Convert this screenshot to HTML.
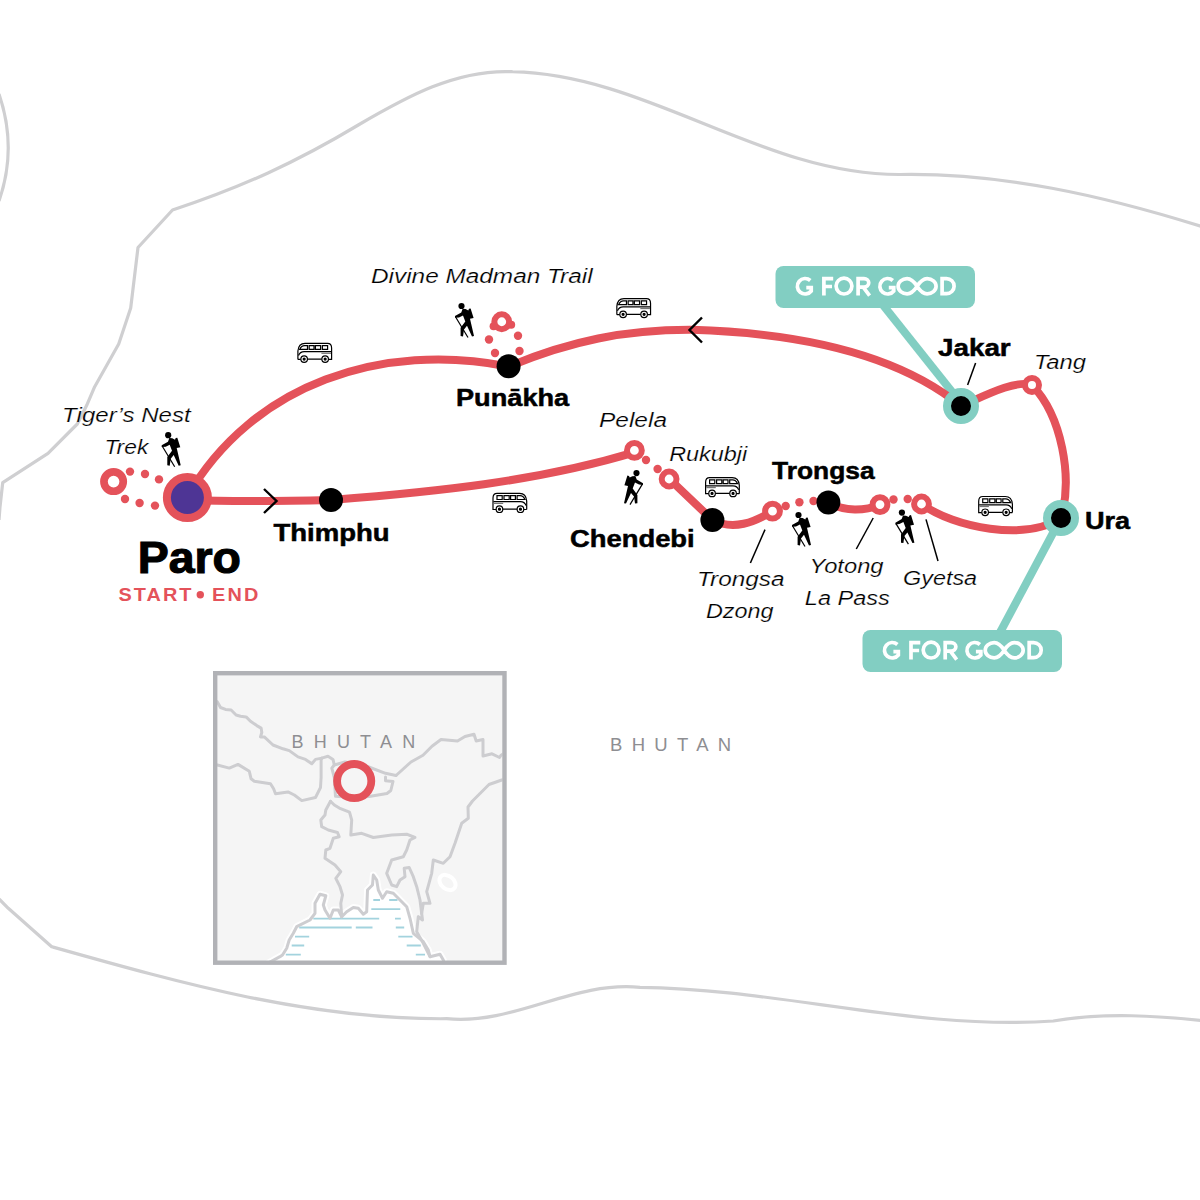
<!DOCTYPE html>
<html><head><meta charset="utf-8">
<style>
html,body{margin:0;padding:0;background:#fff;width:1200px;height:1200px;overflow:hidden}
svg{display:block}
text{font-family:"Liberation Sans",sans-serif}
.b{font-weight:bold;font-size:24px;fill:#000;stroke:#000;stroke-width:0.5px}
.i{font-style:italic;font-size:20px;fill:#000;stroke:#fff;stroke-width:0.2px}
</style></head><body>
<svg width="1200" height="1200" viewBox="0 0 1200 1200">
<defs>
<g id="hiker">
<circle cx="13.2" cy="7.2" r="3.1"/>
<path d="M14.3 10 L17.3 10.3 L20 11.7 L20.7 10 L22.3 9.7 L25.3 19.3 L21.7 20 L25.7 37.3 L23.7 37.7 L18.7 27 L15.7 30.7 L14.7 37.7 L12.3 37.3 L12.3 29 L17 22.7 L14.7 16.7 L10.7 18.7 L6.7 19 L6.7 17.3 L13 13.7 Z"/>
<path d="M7.3 18.2 L19.7 38.7" stroke="#000" stroke-width="1.2" fill="none"/>
</g>
<g id="bus" fill="none" stroke="#000" stroke-width="1.2">
<path d="M3.9 19.4 V11 Q4.5 3.3 11 3.3 H33.5 Q37.6 3.3 37.6 8 V19.4 H34.6 M27.7 19.1 H13.6 M6.7 19.4 H3.9"/>
<path d="M5.6 9.4 Q7.5 5.6 10.5 5.6 H13.5 V9.4 Z M15.2 5.6 H20 V9.4 H15.2 Z M21.4 5.6 H26.6 V9.4 H21.4 Z M28.4 5.6 H33.6 V9.4 H28.4 Z"/>
<path d="M4.5 15.5 Q6 11.6 10.2 11.6 H37.2"/>
<path d="M27.4 13.3 H37" stroke="#777"/>
<circle cx="10.15" cy="19.1" r="3.3"/>
<circle cx="31.15" cy="19.1" r="3.3"/>
<circle cx="10.15" cy="19.1" r="1" fill="#000"/>
<circle cx="31.15" cy="19.1" r="1" fill="#000"/>
</g>
</defs>

<!-- country border -->
<g fill="none" stroke="#cfcfd1" stroke-width="3.2" stroke-linejoin="round">
<path d="M-1 94 Q17.5 148 -1 201"/>
<path d="M1210 229 L1200 226 C1103.2 195.8 1002.1 172.7 900 174.5 C761.9 175 649.4 74.9 512.5 71.7 C456 69 405.2 97.6 358.3 125 C296.8 161.9 241 187.6 172.5 210 L138 247.5 L130.7 308 L118.7 344 L94.7 386.7 L86.7 405.3 Q82 415 77.3 424 L48 453.3 L2.7 482.7 L0 507 L-1 520"/>
<path d="M-5 895 L0 900 L8.3 908.3 L51.7 946.7 C181 983.1 311.2 1019.9 446.7 1018.7 C514.5 1025.4 572.3 980.6 640 987.3 C778.6 988.6 914.5 1030.7 1053.3 1021 C1105.2 1012.1 1157.9 1015.7 1210 1021.5"/>
</g>

<!-- inset map -->
<defs><clipPath id="ic"><rect x="217" y="675" width="285.5" height="286"/></clipPath></defs>
<rect x="215.2" y="673.2" width="289.3" height="289.5" fill="#f5f5f5"/>
<g clip-path="url(#ic)">
<path d="M262.0 968.0 L270.0 962.0 L280.0 956.7 L282.5 955.0 L286.7 948.3 L289.2 940.0 L293.3 933.3 L296.7 926.7 L310.0 920.0 L315.0 913.3 L315.0 903.3 L320.0 894.2 L325.8 895.8 L323.3 905.0 L325.0 910.0 L330.0 918.3 L333.3 910.0 L338.3 910.0 L341.7 916.7 L346.7 911.7 L353.3 907.5 L358.3 908.3 L363.3 914.2 L366.7 911.7 L367.5 890.0 L372.5 885.0 L373.3 875.0 L376.7 880.0 L378.3 890.0 L382.5 898.3 L386.7 891.7 L393.3 893.3 L406.7 906.7 L410.0 918.3 L413.3 933.3 L423.3 941.7 L428.3 950.0 L430.0 956.7 L440.0 954.2 L443.3 960.0 L446.0 968.0 Z" fill="#fff" stroke="#fff" stroke-width="7" stroke-linejoin="round" opacity="0.9"/>
<path d="M262.0 968.0 L270.0 962.0 L280.0 956.7 L282.5 955.0 L286.7 948.3 L289.2 940.0 L293.3 933.3 L296.7 926.7 L310.0 920.0 L315.0 913.3 L315.0 903.3 L320.0 894.2 L325.8 895.8 L323.3 905.0 L325.0 910.0 L330.0 918.3 L333.3 910.0 L338.3 910.0 L341.7 916.7 L346.7 911.7 L353.3 907.5 L358.3 908.3 L363.3 914.2 L366.7 911.7 L367.5 890.0 L372.5 885.0 L373.3 875.0 L376.7 880.0 L378.3 890.0 L382.5 898.3 L386.7 891.7 L393.3 893.3 L406.7 906.7 L410.0 918.3 L413.3 933.3 L423.3 941.7 L428.3 950.0 L430.0 956.7 L440.0 954.2 L443.3 960.0 L446.0 968.0 Z" fill="#fff"/>
<path d="M373.3 900.0 H380.0 M389.2 900.0 H397.5 M371.3 909.2 H400.3 M313.3 918.7 H379.2 M395.0 918.7 H400.8 M299.2 927.5 H351.7 M355.8 927.5 H372.5 M395.8 927.5 H404.2 M295.0 936.7 H309.2 M398.3 936.7 H412.5 M291.7 945.5 H304.2 M406.7 945.5 H420.8 M285.8 954.7 H300.8 M415.8 954.7 H425.0" stroke="#a3d3de" stroke-width="1.8" fill="none"/>
<ellipse cx="447.5" cy="882.5" rx="9" ry="6.5" transform="rotate(40 447.5 882.5)" fill="none" stroke="#fff" stroke-width="4"/>
<g fill="none" stroke="#cdcdd0" stroke-width="3" stroke-linejoin="round" stroke-linecap="round">
<path d="M213.0 700.0 L217.4 701.9 L220.5 707.5 L225.5 709.4 L231.1 710.0 L236.1 715.0 L240.5 716.3 L246.1 716.9 L250.5 721.3 L256.8 725.6 L261.1 728.1 L261.8 732.5 L260.5 736.9 L264.3 736.9 L273.0 745.0 L283.0 748.8 L289.3 750.6 L298.0 756.9 L305.5 759.4 L311.8 763.8 L315.5 759.4 L321.8 758.1 L328.0 756.3 L333.0 759.4 L334.3 765.0 L331.8 768.1 L334.3 777.5 L335.5 796.3 L353.0 797.5 L369.0 796.5 L387.0 793.5 L390.8 790.5 L393.0 781.5 L385.5 780.8 L385.5 777.0"/><path d="M334.3 765.0 L345.0 762.0 L367.5 766.5 L385.5 773.3 L396.0 775.5"/><path d="M396.0 775.5 L411.0 762.0 L423.0 755.2 L432.0 746.2 L441.0 739.5 L457.5 741.0 L465.0 736.5 L474.0 734.2 L476.2 741.0 L483.0 739.5 L483.0 756.0 L492.0 753.8 L499.5 757.5 L501.0 755.2 L508.0 751.0"/><path d="M213.0 764.5 L217.4 765.0 L229.3 768.1 L238.0 764.4 L249.3 771.3 L251.1 778.8 L254.3 781.3 L270.5 783.8 L273.6 788.8 L275.5 793.8 L288.0 791.9 L294.3 795.0 L301.8 800.6 L315.5 797.5 L320.5 787.5 L321.1 777.5 L321.1 760.0 L321.8 758.1"/><path d="M508.0 777.0 L501.8 780.0 L489.0 784.5 L480.0 793.5 L472.5 801.0 L468.0 807.0 L468.3 818.3 L461.7 823.3 L455.0 843.3 L450.0 856.7 L443.3 863.3 L433.3 860.0 L431.7 873.3 L426.7 891.7 L430.0 903.3 L423.3 903.3 L421.7 913.3"/><path d="M330.5 801.3 L325.8 810.0 L325.0 815.0 L320.8 820.0 L321.7 826.7 L328.3 830.0 L337.5 832.5 L339.2 836.7 L333.3 838.3 L330.0 848.3 L325.8 850.0 L325.0 858.3 L335.0 865.0 L340.8 871.7 L335.8 878.3 L340.0 886.7 L342.5 895.0 L340.8 903.3 L341.7 916.7"/><path d="M330.5 801.3 L334.3 805.0 L339.3 808.1 L349.5 812.2 L351.7 820.0 L350.8 835.0 L361.7 833.3 L373.3 837.5 L391.7 835.0 L406.7 834.2 L415.0 837.5 L410.0 840.0 L406.7 850.0 L403.3 856.7 L391.7 860.0 L386.7 873.3 L391.7 885.0 L396.7 886.7 L400.0 880.0 L405.0 876.7 L404.2 868.3 L409.2 867.5 L413.3 876.7 L416.7 886.7 L420.0 900.0 L422.5 920.0 L418.3 916.7 L416.7 931.7 L423.3 943.3 L428.3 953.3 L430.0 956.7"/><path d="M341.7 916.7 L338.3 910.0 L333.3 910.0 L330.0 918.3 L325.0 910.0 L323.3 905.0 L325.8 895.8 L320.0 894.2 L315.0 903.3 L315.0 913.3 L310.0 920.0 L296.7 926.7 L293.3 933.3 L289.2 940.0 L286.7 948.3 L282.5 955.0 L280.0 956.7 L270.0 962.0 L262.0 968.0"/><path d="M341.7 916.7 L346.7 911.7 L353.3 907.5 L358.3 908.3 L363.3 914.2 L366.7 911.7 L367.5 890.0 L372.5 885.0 L373.3 875.0 L376.7 880.0 L378.3 890.0 L382.5 898.3 L386.7 891.7 L393.3 893.3 L406.7 906.7 L410.0 918.3 L413.3 933.3 L423.3 941.7 L428.3 950.0 L430.0 956.7 L440.0 954.2 L443.3 960.0 L446.0 968.0"/>
</g>
</g>
<rect x="215.2" y="673.2" width="289.3" height="289.5" fill="none" stroke="#b1b2b6" stroke-width="4.4"/>
<circle cx="354.2" cy="781.1" r="17.1" fill="none" stroke="#e4525a" stroke-width="7.8"/>

<!-- teal leaders -->
<g stroke="#82cec2" stroke-width="8" fill="none">
<path d="M879 300 L962.5 405"/>
<path d="M996 640 L1061 518"/>
</g>
<rect x="775.5" y="266" width="199.5" height="42" rx="8" fill="#82cec2"/>
<rect x="862.5" y="630" width="199.5" height="42" rx="8" fill="#82cec2"/>

<!-- route -->
<g fill="none" stroke="#e4525a" stroke-width="8" stroke-linecap="round">
<path d="M187 497 C253 382.9 383.2 341.5 508.5 366.5 C570.3 341 624.8 329.5 692 329.8 C780.6 332.5 890.1 348.3 961 406 C977.5 399.4 1014.7 378.9 1032 385 C1062.1 416.4 1072.7 477.4 1061 518 C1025.4 541.4 954 527.8 921.5 504"/>
<path d="M187 500 C240 502 290 501 331 500 C433.1 491.8 535.8 482 634.4 452.4"/>
<path d="M669 478.6 L712.4 520 C733.7 531 754.3 522 772.5 511.2"/>
<path d="M828.4 502.6 C845 512 865 511 880 504.6"/>
</g>
<!-- dots -->
<g fill="#e4525a">
<circle cx="130" cy="471.6" r="4.2"/><circle cx="145" cy="474" r="4.2"/><circle cx="159" cy="479.4" r="4.2"/>
<circle cx="125" cy="499" r="4.2"/><circle cx="139.6" cy="503" r="4.2"/><circle cx="155" cy="505.6" r="4.2"/>
<circle cx="493.6" cy="326.3" r="4"/><circle cx="511.2" cy="324.8" r="4"/><circle cx="489" cy="339.5" r="4.2"/><circle cx="518" cy="335.75" r="4.2"/><circle cx="495" cy="353" r="4.2"/><circle cx="519.5" cy="351" r="4.2"/>
<circle cx="646" cy="460" r="4.2"/><circle cx="657.6" cy="469" r="4.2"/>
<circle cx="785.7" cy="506" r="4.2"/><circle cx="799.4" cy="502.3" r="4.2"/><circle cx="813.5" cy="501" r="4.2"/>
<circle cx="893.5" cy="499.5" r="4.2"/><circle cx="907.7" cy="499" r="4.2"/>
</g>
<!-- rings -->
<g fill="#fff" stroke="#e4525a" stroke-width="6">
<circle cx="113.6" cy="481.6" r="9.65" stroke-width="7.7"/>
<circle cx="501.75" cy="321.75" r="7.4"/>
<circle cx="634.4" cy="450.4" r="7.4"/>
<circle cx="669.1" cy="479" r="7.4"/>
<circle cx="772.5" cy="511.2" r="7.4"/>
<circle cx="880" cy="504.6" r="7.4"/>
<circle cx="921.5" cy="504" r="7.4"/>
<circle cx="1032" cy="385" r="7"/>
</g>
<!-- paro -->
<circle cx="187.4" cy="497.6" r="20.5" fill="#4e3595" stroke="#e4525a" stroke-width="8"/>
<!-- black stops -->
<g fill="#000">
<circle cx="331" cy="500" r="12"/>
<circle cx="508.6" cy="366.3" r="12"/>
<circle cx="712.4" cy="520" r="12"/>
<circle cx="828.4" cy="502.6" r="12"/>
</g>
<circle cx="961" cy="406" r="14" fill="#000" stroke="#82cec2" stroke-width="8"/>
<circle cx="1061" cy="518" r="14" fill="#000" stroke="#82cec2" stroke-width="8"/>

<!-- arrows -->
<g fill="none" stroke="#000" stroke-width="2.4">
<path d="M264 489 L276.5 501 L264 513"/>
<path d="M702 317.5 L689.5 330 L702 342.5"/>
</g>
<!-- leaders -->
<g stroke="#000" stroke-width="1.5">
<path d="M975.6 363 L967.6 385"/>
<path d="M765 529.6 L750.4 563"/>
<path d="M873.2 518 L856.3 549"/>
<path d="M926 519.4 L938 561"/>
</g>

<!-- icons -->
<use href="#hiker" x="155" y="428"/>
<use href="#hiker" x="448.3" y="298.8"/>
<use href="#hiker" transform="translate(649.7 465.9) scale(-1 1)"/>
<use href="#hiker" x="785.3" y="507.8"/>
<use href="#hiker" x="888.7" y="505.4"/>
<use href="#bus" x="294" y="340"/>
<use href="#bus" transform="translate(530.6 490.1) scale(-1 1)"/>
<use href="#bus" x="612.95" y="295.25"/>
<use href="#bus" transform="translate(743.2 474.3) scale(-1 1)"/>
<use href="#bus" transform="translate(1016.3 493.2) scale(-1 1)"/>

<!-- labels -->
<text class="b" x="137.7" y="573" style="font-size:44px;stroke-width:1.1px" textLength="103.3" lengthAdjust="spacingAndGlyphs">Paro</text>
<text transform="translate(118.5 600.8) scale(1.07 1)" style="font-size:18.6px;font-weight:bold;fill:#e4525a;letter-spacing:1.9px">START</text>
<circle cx="200.3" cy="594.8" r="3.7" fill="#e4525a"/>
<text transform="translate(212 600.8) scale(1.07 1)" style="font-size:18.6px;font-weight:bold;fill:#e4525a;letter-spacing:2.1px">END</text>
<text class="b" x="273.4" y="541" textLength="116.3" lengthAdjust="spacingAndGlyphs">Thimphu</text>
<text class="b" x="456" y="406" textLength="113.2" lengthAdjust="spacingAndGlyphs">Punākha</text>
<text class="b" x="938" y="356" textLength="72.7" lengthAdjust="spacingAndGlyphs">Jakar</text>
<text class="b" x="772" y="479" textLength="102.6" lengthAdjust="spacingAndGlyphs">Trongsa</text>
<text class="b" x="570" y="547" textLength="124.7" lengthAdjust="spacingAndGlyphs">Chendebi</text>
<text class="b" x="1085" y="529" textLength="45.2" lengthAdjust="spacingAndGlyphs">Ura</text>

<text class="i" x="62.1" y="422" textLength="128.5" lengthAdjust="spacingAndGlyphs">Tiger’s Nest</text>
<text class="i" x="104.4" y="453.5" textLength="43.9" lengthAdjust="spacingAndGlyphs">Trek</text>
<text class="i" x="371" y="283" textLength="221.6" lengthAdjust="spacingAndGlyphs">Divine Madman Trail</text>
<text class="i" x="599" y="427" textLength="68" lengthAdjust="spacingAndGlyphs">Pelela</text>
<text class="i" x="669.2" y="461" textLength="78" lengthAdjust="spacingAndGlyphs">Rukubji</text>
<text class="i" x="1034" y="369" textLength="52.1" lengthAdjust="spacingAndGlyphs">Tang</text>
<text class="i" x="697" y="586" textLength="87.5" lengthAdjust="spacingAndGlyphs">Trongsa</text>
<text class="i" x="706" y="618" textLength="67.5" lengthAdjust="spacingAndGlyphs">Dzong</text>
<text class="i" x="809.6" y="572.6" textLength="74" lengthAdjust="spacingAndGlyphs">Yotong</text>
<text class="i" x="804.8" y="604.5" textLength="85" lengthAdjust="spacingAndGlyphs">La Pass</text>
<text class="i" x="903" y="585" textLength="74.1" lengthAdjust="spacingAndGlyphs">Gyetsa</text>

<text x="610" y="751" style="font-size:18.5px;fill:#8e8e92;letter-spacing:9.3px">BHUTAN</text>
<text x="291.5" y="747.7" style="font-size:18px;fill:#8e8e92;letter-spacing:10.2px">BHUTAN</text>

<g id="gfg" fill="none" stroke="#fff" stroke-width="3.7">
<path d="M810.3 280.5 A7.75 7.75 0 1 0 811.25 291 V287.6 H806.3"/>
<path d="M833.2 278.6 H823.9 V295.6 M823.9 286.5 H832"/>
<circle cx="844" cy="286.1" r="7.9"/>
<path d="M858.1 295.6 V278.6 H864 A4.75 4.25 0 0 1 864 287.1 H858.1 M863.2 287.1 L869.6 295.6"/>
<path d="M892.8 280.5 A7.75 7.75 0 1 0 893.75 291 V287.6 H888.8"/>
<path d="M917.1 286.25 C913.5 280.6 910.8 278.6 907.1 278.6 A9 7.65 0 0 0 907.1 293.9 C910.8 293.9 913.5 291.9 917.1 286.25 C920.7 280.6 923.4 278.6 927.1 278.6 A9 7.65 0 0 1 927.1 293.9 C923.4 293.9 920.7 291.9 917.1 286.25 Z"/>
<path d="M942.1 278.6 V293.7 H946.5 A7.6 7.55 0 0 0 946.5 278.6 Z"/>
</g>
<use href="#gfg" transform="translate(87.1 364)"/>
</svg>
</body></html>
